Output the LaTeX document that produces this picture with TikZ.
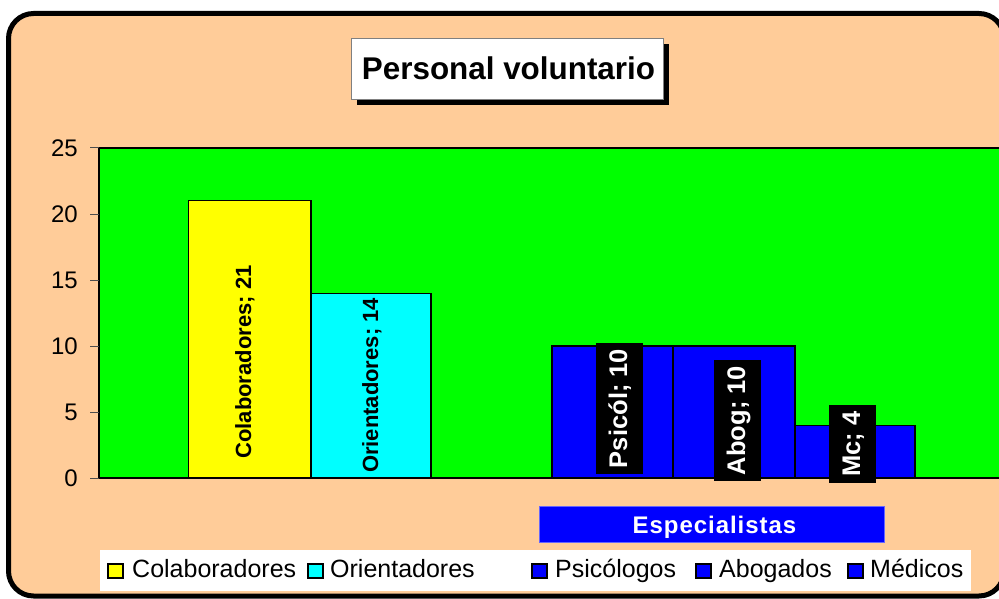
\documentclass[tikz,border=0pt]{standalone}
\usepackage{fontspec}
\setmainfont{Liberation Sans}
\definecolor{peach}{HTML}{FFCC99}
\definecolor{plotgreen}{HTML}{00FF00}
\definecolor{baryellow}{HTML}{FFFF00}
\definecolor{barcyan}{HTML}{00FFFF}
\definecolor{barblue}{HTML}{0000FF}
\begin{document}
\begin{tikzpicture}[x=1pt,y=-1pt,
  barbox/.style={draw=black,line width=1.6pt},
  vlabel/.style={rotate=90,anchor=base,inner sep=0pt,font=\bfseries\fontsize{22}{26}\selectfont},
  blacklabel/.style={rotate=90,anchor=base,fill=black,text=white,inner xsep=6pt,inner ysep=0pt,text height=31pt,text depth=16pt,font=\bfseries\fontsize{25.5}{30}\selectfont},
  ticklabel/.style={anchor=east,inner sep=0pt,font=\fontsize{24}{28}\selectfont},
  legtext/.style={anchor=base west,inner sep=0pt,font=\fontsize{25}{29}\selectfont},
  legkey/.style={draw=black,line width=1.3pt}]
\useasboundingbox (0,0) rectangle (999,599);
\clip (0,0) rectangle (999,599);
% outer frame
\draw[fill=peach,line width=5pt,rounded corners=25pt] (8.5,13.5) rectangle (1004,596);
% title
\fill[black] (357,44) rectangle (669,105);
\draw[fill=white,draw=gray,line width=0.8pt] (351,38) rectangle (663,99);
\node[anchor=base,inner sep=0pt,font=\bfseries\fontsize{31.4}{36}\selectfont] (title) at (508.5,80) {Personal voluntario};
% plot area
\fill[plotgreen] (99,148) rectangle (1005,478);
\draw[line width=1.8pt] (1005,148) -- (99,148) -- (99,478) -- (1005,478);
% ticks and labels
\foreach \v in {0,5,10,15,20,25}{
  \draw[line width=1pt,black!70] (90,{478-13.2*\v}) -- (99,{478-13.2*\v});
  \node[ticklabel] (tick\v) at (78,{478-13.2*\v}) {\v};
}
% bars
\draw[barbox,fill=baryellow] (188.5,478) rectangle (311,200.5);
\draw[barbox,fill=barcyan] (311,478) rectangle (431,293.5);
\draw[barbox,fill=barblue] (552,478) rectangle (673,346);
\draw[barbox,fill=barblue] (673,478) rectangle (795,346);
\draw[barbox,fill=barblue] (795,478) rectangle (915,425.5);
% bar labels
\node[vlabel] (lcol) at (251,362) {Colaboradores; 21};
\node[vlabel] (lori) at (378,385.5) {Orientadores; 14};
\node[blacklabel] (lpsi) at (627,408.5) {Psicól; 10};
\node[blacklabel] (labo) at (745,420.5) {Abog; 10};
\node[blacklabel] (lmed) at (860,444) {Mc; 4};
% especialistas
\draw[fill=barblue,draw=blue!60!white,line width=0.8pt] (539,506) rectangle (884,542);
\node[anchor=base,inner sep=0pt,text=white,font=\bfseries\fontsize{24}{28}\selectfont\addfontfeature{LetterSpace=4}] (esp) at (714.5,533) {Especialistas};
% legend
\fill[white] (100,550) rectangle (971,591);
\draw[legkey,fill=baryellow] (108,564) rectangle (123,578);
\node[legtext] (kcol) at (132,577) {Colaboradores};
\draw[legkey,fill=barcyan] (308,564) rectangle (323,578);
\node[legtext] (kori) at (330,577) {Orientadores};
\draw[legkey,fill=barblue] (532,564) rectangle (547,578);
\node[legtext] (kpsi) at (555,577) {Psicólogos};
\draw[legkey,fill=barblue] (696,564) rectangle (711,578);
\node[legtext] (kabo) at (719,577) {Abogados};
\draw[legkey,fill=barblue] (848,564) rectangle (863,578);
\node[legtext] (kmed) at (870,577) {Médicos};
\end{tikzpicture}
\end{document}
